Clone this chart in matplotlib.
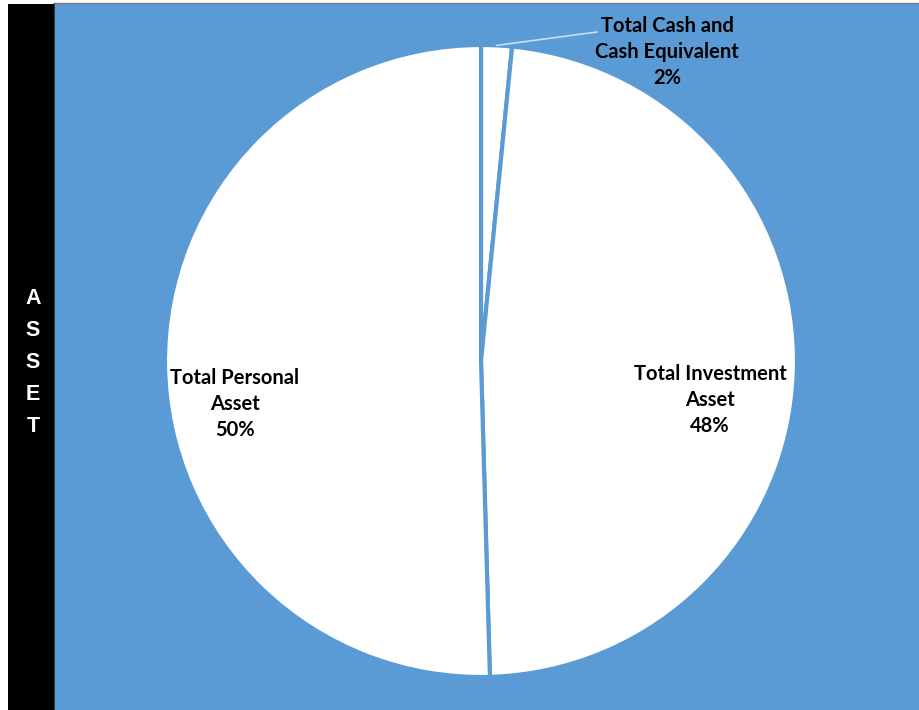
import numpy as np
import matplotlib
matplotlib.use('Agg')
import matplotlib.pyplot as plt
from matplotlib.patches import Rectangle

# asset breakdown (share of total, %)
categories = ['Total Cash and\nCash Equivalent', 'Total Investment\nAsset', 'Total Personal\nAsset']
values = [1.57, 47.98, 50.45]
side_title = 'ASSET'

blue = '#5B9BD5'
W, H = 919, 710

fig = plt.figure(figsize=(W / 100, H / 100), dpi=100)
fig.patch.set_facecolor('white')
ax = fig.add_axes([0, 0, 1, 1])

# black side band and blue plot background
ax.add_patch(Rectangle((8, 0), 46, H - 4, facecolor='black', edgecolor='none', zorder=0))
ax.add_patch(Rectangle((54, 0), W - 54, H - 3, facecolor=blue, edgecolor='none', zorder=0))
ax.plot([54, W], [H - 3, H - 3], color='#7f7f7f', lw=1, zorder=1)
ax.plot([54, 54], [0, H - 3], color='#2f4050', lw=0.8, zorder=1)

# vertical stacked letters
for i, ch in enumerate(side_title):
    ax.text(33, H - 298 - i * 32, ch, color='white', fontsize=15.5, fontweight='bold',
            family='Liberation Sans', ha='center', va='center', zorder=3)

cx, cy, r = 481, H - 361, 316
wedges, _ = ax.pie(values, colors=['white'] * 3, startangle=90, counterclock=False,
                   center=(cx, cy), radius=r, frame=True,
                   wedgeprops=dict(edgecolor=blue, linewidth=3))
ax.set_xlim(0, W)
ax.set_ylim(0, H)
ax.axis('off')

pct = [f'{round(v)}%' for v in values]
font = dict(family=['Lato', 'DejaVu Sans'], fontsize=14.5, fontweight='bold',
            ha='center', va='center', color='black', zorder=4, linespacing=1.4)

# cash label with leader line
mid = np.deg2rad(90 - values[0] * 3.6 / 2)
tip = (cx + r * np.cos(mid), cy + r * np.sin(mid))
ax.plot([tip[0], 597], [tip[1], H - 32], color='#c9dcf0', lw=1.2, zorder=3)
ax.text(667, H - 52, categories[0] + '\n' + pct[0], **font)
ax.text(710, H - 400, categories[1] + '\n' + pct[1], **font)
ax.text(235, H - 404, categories[2] + '\n' + pct[2], **font)

fig.savefig('out.png', dpi=100)
